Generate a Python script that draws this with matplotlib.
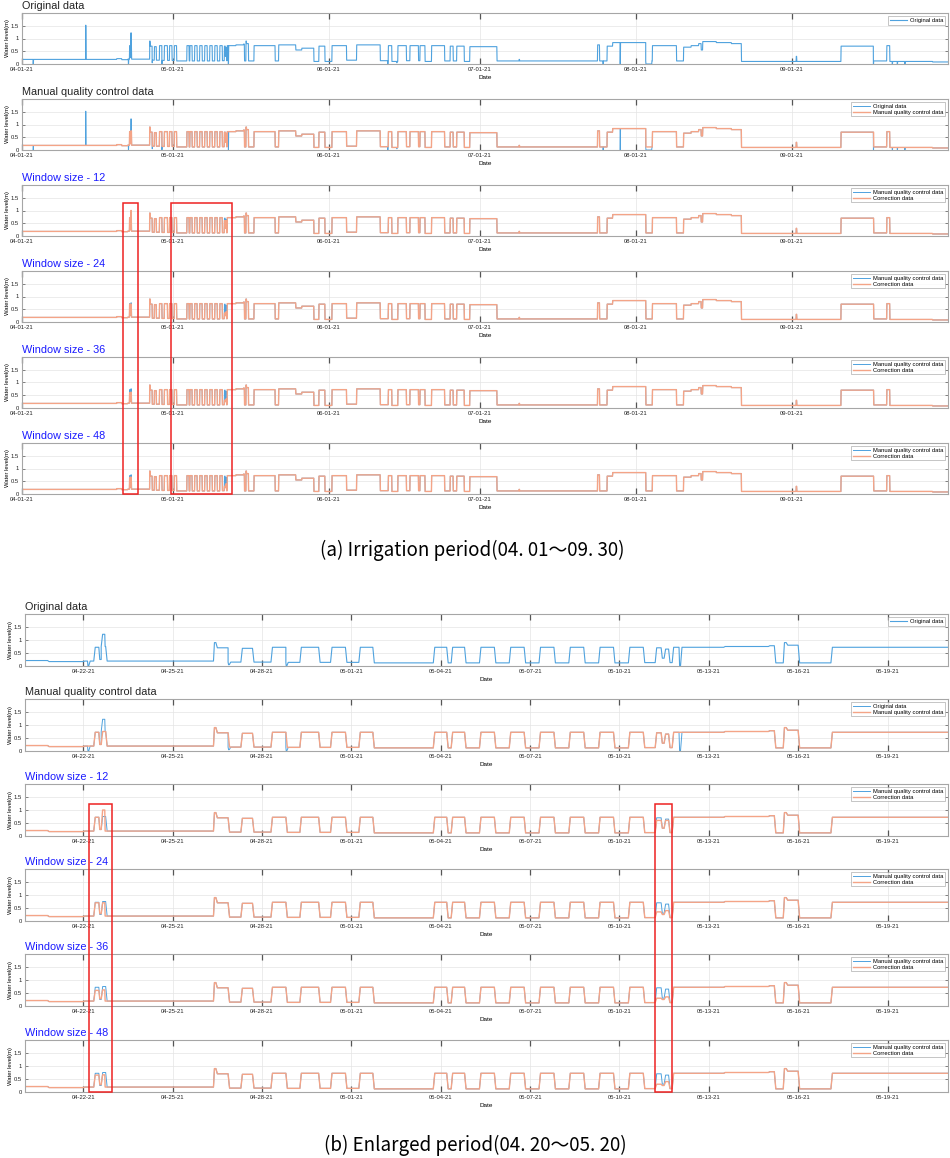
import matplotlib
matplotlib.use("Agg")
import matplotlib.pyplot as plt
import matplotlib.dates as mdates
from matplotlib.patches import Rectangle
from datetime import datetime, timedelta
import numpy as np

# manual quality control data: step breakpoints (days after 04-01-21 00:00) and water level (m)
qc_day = [0.0, 18.8, 19.8, 21.0, 21.35, 21.52, 21.60, 21.75,
          25.37, 25.45, 25.86, 26.29, 26.68, 27.30, 27.80, 28.27, 28.90,
          29.30, 29.80, 30.25, 30.72, 32.75, 33.20, 33.35, 33.80, 34.30, 34.80,
          35.30, 35.80, 36.30, 36.80, 37.30, 37.80, 38.30, 38.80, 39.30, 39.80,
          40.20, 40.40, 40.50, 40.65, 40.77, 42.5, 44.0, 44.2, 44.5, 44.6, 45.0,
          46.1, 50.3, 51.0, 54.4, 55.6, 58.0, 59.0, 60.2, 61.6, 64.5, 66.5,
          71.2, 72.8, 73.5, 74.7, 76.4, 77.1, 78.8, 79.1, 80.1, 81.4, 84.0,
          85.1, 85.7, 86.4, 87.9, 89.0, 94.4, 98.8, 98.9, 114.4, 114.8, 116.3,
          117.4, 124.0, 125.3, 130.1, 131.5, 133.0, 134.5, 135.0, 135.3, 138.0,
          141.0, 143.0, 153.9, 154.0, 162.8, 169.3, 171.9, 172.5, 181.0]
qc_lvl = [0.18, 0.21, 0.17, 0.19, 0.72, 0.25, 0.75, 0.19,
          0.90, 0.70, 0.15, 0.68, 0.15, 0.72, 0.14, 0.72, 0.14,
          0.72, 0.14, 0.72, 0.12, 0.72, 0.12, 0.72, 0.12, 0.72, 0.12,
          0.72, 0.12, 0.72, 0.12, 0.72, 0.12, 0.72, 0.12, 0.72, 0.13,
          0.70, 0.30, 0.65, 0.13, 0.72, 0.75, 0.78, 0.12, 0.90, 0.80, 0.12,
          0.72, 0.12, 0.75, 0.55, 0.62, 0.10, 0.70, 0.10, 0.72, 0.15, 0.75,
          0.13, 0.72, 0.10, 0.72, 0.13, 0.72, 0.13, 0.72, 0.10, 0.72, 0.12,
          0.70, 0.12, 0.70, 0.10, 0.68, 0.12, 0.18, 0.12, 0.75, 0.12, 0.70,
          0.84, 0.12, 0.72, 0.12, 0.66, 0.72, 0.80, 0.55, 0.88, 0.84,
          0.80, 0.10, 0.30, 0.10, 0.70, 0.12, 0.72, 0.10, 0.08]

# glitches in the original record: start day, level, duration (days)
glitch_day = [2.2, 12.65, 21.14, 21.60, 25.86, 27.80, 41.0, 72.7, 74.5, 115.5,
              118.9, 124.0, 169.25, 173.0, 174.0, 175.5]
glitch_lvl = [0.0, 1.52, 0.0, 1.22, 0.05, 0.0, 0.0, 0.0, 0.05, 0.0,
              0.0, 0.0, 0.0, 0.0, 0.0, 0.0]
glitch_len = [0.05, 0.04, 0.04, 0.12, 0.04, 0.03, 0.05, 0.05, 0.05, 0.05,
              0.05, 1.2, 0.1, 0.05, 0.05, 0.05]

# correction data, only where it differs from the manual QC data (two spans per window)
windows = [12, 24, 36, 48]
corr_day = {
    12: [[21.35, 21.52, 21.60, 21.72], [40.20, 40.40, 40.50, 40.65]],
    24: [[21.35, 21.52, 21.60, 21.72], [40.20, 40.40, 40.50, 40.65]],
    36: [[21.35, 21.52, 21.60, 21.72], [40.20, 40.40, 40.50, 40.65]],
    48: [[21.35, 21.52, 21.60, 21.72], [40.20, 40.40, 40.50, 40.65]],
}
corr_lvl = {
    12: [[0.72, 0.25, 1.00, 0.19], [0.60, 0.30, 0.60, 0.13]],
    24: [[0.70, 0.28, 0.70, 0.19], [0.35, 0.25, 0.40, 0.13]],
    36: [[0.60, 0.28, 0.62, 0.19], [0.30, 0.25, 0.35, 0.13]],
    48: [[0.65, 0.28, 0.66, 0.19], [0.30, 0.25, 0.40, 0.13]],
}

# red boxes: (start day, end day)
boxes_a = [(20.1, 23.0), (29.56, 41.8)]
boxes_b = [(21.18, 21.97), (40.19, 40.77)]

month_ticks = [datetime(2021, m, 1) for m in range(4, 10)]

t0 = datetime(2021, 4, 1)
BLUE = "#4fa2de"
ORANGE = "#f4a487"


def level_at(days, lvls, t):
    i = np.searchsorted(days, t, side="right") - 1
    return lvls[max(i, 0)]


def with_glitches(days, lvls):
    d = list(days)
    v = list(lvls)
    for g, gv, gl in zip(glitch_day, glitch_lvl, glitch_len):
        back = level_at(days, lvls, g + gl)
        d += [g, g + gl]
        v += [gv, back]
    order = np.argsort(d, kind="stable")
    return np.array(d)[order], np.array(v)[order]


def patched(days, lvls, spans_d, spans_v):
    pts = list(zip(days, lvls))
    for pd, pv in zip(spans_d, spans_v):
        lo, hi = pd[0], pd[-1]
        pts = [(a, b) for a, b in pts if not (lo - 0.01 <= a <= hi + 0.01)]
        pts += list(zip(pd, pv))
    pts.sort()
    return np.array([p[0] for p in pts]), np.array([p[1] for p in pts])


def ramped(days, lvls):
    # water level changes take a short while, so each step is drawn with a sloped edge
    xs, ys = [days[0]], [lvls[0]]
    for i in range(1, len(days)):
        nxt = days[i + 1] if i + 1 < len(days) else days[i] + 1
        r = min(0.05, 0.4 * (nxt - days[i]))
        xs += [days[i], days[i] + r]
        ys += [lvls[i - 1], lvls[i]]
    xs.append(184.5)
    ys.append(lvls[-1])
    return [t0 + timedelta(days=float(x)) for x in xs], ys


qc_d, qc_v = np.array(qc_day), np.array(qc_lvl)
or_d, or_v = with_glitches(qc_d, qc_v)

W, H = 950, 1158
fig = plt.figure(figsize=(W / 100, H / 100), dpi=100)
plt.rcParams["font.family"] = ["Liberation Sans", "DejaVu Sans"]


def make_ax(left, top, height, right=948):
    ax = fig.add_axes([left / W, 1 - (top + height) / H, (right - left) / W, height / H])
    ax.set_ylim(0, 2.0)
    ax.set_yticks([0, 0.5, 1, 1.5])
    ax.set_yticklabels(["0", "0.5", "1", "1.5"])
    ax.grid(True, color="#e4e4e4", lw=0.5)
    ax.set_axisbelow(True)
    for s in ax.spines.values():
        s.set_color("#a6a6a6")
        s.set_linewidth(0.8)
    ax.tick_params(axis="both", direction="in", labelsize=4.2, colors="#555555",
                   labelcolor="#222222", top=True, right=True, length=2.5, width=0.5, pad=2)
    ax.tick_params(axis="x", length=4, width=0.9)
    ax.set_ylabel("Water level(m)", fontsize=4.2, labelpad=1)
    ax.set_xlabel("Date", fontsize=4.6, labelpad=2)
    return ax


def draw_panel(ax, kind, title):
    if kind == "orig":
        ax.plot(*ramped(or_d, or_v), color=BLUE, lw=0.8, label="Original data")
        tcolor = "#222222"
    elif kind == "qc":
        ax.plot(*ramped(or_d, or_v), color=BLUE, lw=0.7, label="Original data")
        ax.plot(*ramped(qc_d, qc_v), color=ORANGE, lw=1.0, label="Manual quality control data")
        tcolor = "#222222"
    else:
        cd, cv = patched(qc_d, qc_v, corr_day[kind], corr_lvl[kind])
        ax.plot(*ramped(qc_d, qc_v), color=BLUE, lw=0.7, label="Manual quality control data")
        ax.plot(*ramped(cd, cv), color=ORANGE, lw=1.0, label="Correction data")
        tcolor = "#1a1aff"
    ax.text(0, 1.03, title, transform=ax.transAxes, fontsize=7.8, color=tcolor, ha="left", va="bottom")
    leg = ax.legend(loc="upper right", fontsize=4.2, frameon=True, fancybox=False, handlelength=2.9,
                    handletextpad=0.5, borderpad=0.3, labelspacing=0.15, borderaxespad=0.5)
    leg.get_frame().set_edgecolor("#9a9a9a")
    leg.get_frame().set_linewidth(0.5)


kinds = ["orig", "qc"] + windows
titles = ["Original data", "Manual quality control data"] + [f"Window size - {w}" for w in windows]

# (a) irrigation period
tops_a = [13, 99, 185, 271, 357, 443]
axes_a = []
for k, ttl, top in zip(kinds, titles, tops_a):
    ax = make_ax(22, top, 51)
    draw_panel(ax, k, ttl)
    ax.set_xlim(t0, t0 + timedelta(days=184.1))
    ax.set_xticks(month_ticks)
    ax.xaxis.set_major_formatter(mdates.DateFormatter("%m-%d-%y"))
    axes_a.append(ax)

# (b) enlarged period
tops_b = [614, 699, 784, 869, 954, 1040]
axes_b = []
for k, ttl, top in zip(kinds, titles, tops_b):
    ax = make_ax(25, top, 52)
    draw_panel(ax, k, ttl)
    ax.set_xlim(datetime(2021, 4, 20, 1), datetime(2021, 5, 21, 0, 45))
    ax.xaxis.set_major_locator(mdates.DayLocator(bymonthday=[1, 4, 7, 10, 13, 16, 19, 22, 25, 28]))
    ax.xaxis.set_major_formatter(mdates.DateFormatter("%m-%d-%y"))
    axes_b.append(ax)

fig.canvas.draw()
inv = fig.transFigure.inverted()


def add_boxes(axes, boxes, top_val):
    for a, b in boxes:
        x0, y1 = inv.transform(axes[2].transData.transform((mdates.date2num(t0 + timedelta(days=a)), top_val)))
        x1, y0 = inv.transform(axes[5].transData.transform((mdates.date2num(t0 + timedelta(days=b)), 0)))
        fig.add_artist(Rectangle((x0, y0), x1 - x0, y1 - y0, transform=fig.transFigure,
                                 fill=False, ec="#ee2222", lw=1.1, zorder=10))


add_boxes(axes_a, boxes_a, 1.29)
add_boxes(axes_b, boxes_b, 1.25)

cap_font = ["Noto Sans CJK KR", "DejaVu Sans"]
fig.text(472 / W, 1 - 550 / H, "(a) Irrigation period(04. 01\uff5e09. 30)", fontsize=13.5,
         family=cap_font, ha="center", va="center")
fig.text(475 / W, 1 - 1145 / H, "(b) Enlarged period(04. 20\uff5e05. 20)", fontsize=13.5,
         family=cap_font, ha="center", va="center")

fig.savefig("out.png", dpi=100)
